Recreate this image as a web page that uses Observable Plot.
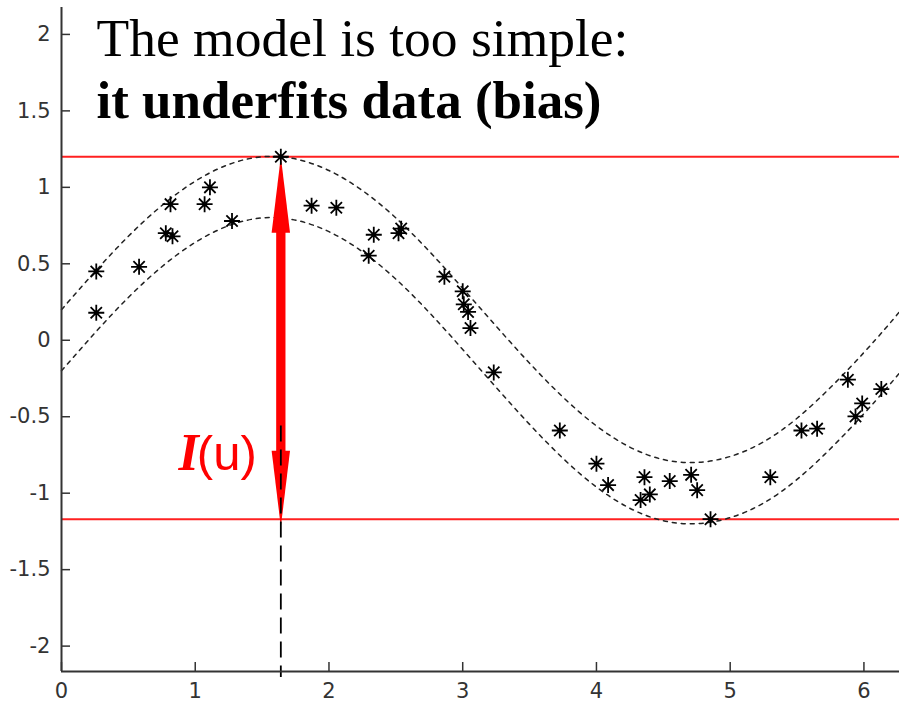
<!DOCTYPE html>
<html>
<head>
<meta charset="utf-8">
<script src="https://cdn.jsdelivr.net/npm/d3@7"></script>
<script src="https://cdn.jsdelivr.net/npm/@observablehq/plot@0.6"></script>
<style>
  html, body { margin: 0; padding: 0; background: #fff; }
  #chart svg { display: block; }
</style>
</head>
<body>
<div id="chart"></div>
<script>
// Noisy observations (u, y)
const sampleX = [0.26, 0.26, 0.58, 0.815, 0.78, 0.83, 1.07, 1.11, 1.275, 1.64,
  1.87, 2.055, 2.335, 2.52, 2.54, 2.297, 2.863, 3.0, 3.008, 3.04,
  3.058, 3.232, 3.726, 4.0, 4.087, 4.359, 4.399, 4.33, 4.548, 4.708,
  4.753, 4.853, 5.30, 5.533, 5.65, 5.88, 5.937, 5.987, 6.13];
const sampleY = [0.45, 0.18, 0.48, 0.89, 0.70, 0.68, 0.89, 1.00, 0.78, 1.20,
  0.88, 0.867, 0.69, 0.70, 0.73, 0.553, 0.416, 0.32, 0.235, 0.185,
  0.08, -0.21, -0.59, -0.807, -0.947, -0.895, -1.008, -1.045, -0.921, -0.88,
  -0.98, -1.17, -0.895, -0.59, -0.578, -0.258, -0.498, -0.413, -0.319];

// Dashed envelope of the model, sampled along u
const bandX = [0, 0.5, 1, 1.5, 2, 2.5, 3, 3.5, 4, 4.5, 5, 5.5, 6, 6.27];
const bandUpper = [0.20, 0.68, 1.04, 1.20, 1.11, 0.80, 0.34, -0.15, -0.56, -0.78, -0.76, -0.51, -0.08, 0.19];
const bandLower = [-0.20, 0.28, 0.64, 0.80, 0.71, 0.40, -0.06, -0.55, -0.96, -1.18, -1.16, -0.91, -0.48, -0.21];

// Axes
const xTicks = [0, 1, 2, 3, 4, 5, 6];
const yTicks = [-2, -1.5, -1, -0.5, 0, 0.5, 1, 1.5, 2];
const xDomain = [0, 6.266];
const yDomain = [-2.166, 2.176];

// Double arrow showing the spread I(u), and the guide down to the u axis
const arrowX = 1.64;
const arrowY = [1.2, -1.22];
const guideY = [-0.56, -2.166];
const arrowLabelY = -0.85;

// Texts
const titleLines = ["The model is too simple:", "it underfits data (bias)"];
const arrowLabel = ["I", "(u)"];

const samples = sampleX.map((x, i) => ({x, y: sampleY[i]}));
const upper = bandX.map((x, i) => ({x, y: bandUpper[i]}));
const lower = bandX.map((x, i) => ({x, y: bandLower[i]}));
const heads = [{x: arrowX, y: arrowY[0], rot: 0}, {x: arrowX, y: arrowY[1], rot: 180}];

// Asterisk marker: a plus and a cross
const asterisk = {
  draw(ctx, size) {
    const r = Math.sqrt(size / Math.PI);
    const d = r * Math.SQRT1_2;
    ctx.moveTo(-r, 0); ctx.lineTo(r, 0);
    ctx.moveTo(0, -r); ctx.lineTo(0, r);
    ctx.moveTo(-d, -d); ctx.lineTo(d, d);
    ctx.moveTo(-d, d); ctx.lineTo(d, -d);
  }
};

// Filled arrowhead with its tip at the anchor, pointing up
const headLen = 76, headHalf = 9.2;
const arrowHead = {
  draw(ctx) {
    ctx.moveTo(0, 0);
    ctx.lineTo(headHalf, headLen);
    ctx.lineTo(-headHalf, headLen);
    ctx.closePath();
  }
};

const fmt = d => String(d);
const axisColor = "#333";

const chart = Plot.plot({
  width: 899,
  height: 705,
  marginTop: 7,
  marginBottom: 34,
  marginLeft: 61,
  marginRight: 0,
  x: {domain: xDomain},
  y: {domain: yDomain},
  style: {fontFamily: "DejaVu Sans", fontSize: "21px", color: "#262626", background: "#fff", overflow: "visible"},
  marks: [
    // extremes of the observations
    Plot.ruleY(d3.extent(sampleY), {stroke: "#ff2020", strokeWidth: 2}),
    // model envelope
    Plot.line(upper, {x: "x", y: "y", curve: "natural", stroke: "#222", strokeWidth: 1.5, strokeDasharray: "4,5"}),
    Plot.line(lower, {x: "x", y: "y", curve: "natural", stroke: "#222", strokeWidth: 1.5, strokeDasharray: "4,5"}),
    // double arrow
    Plot.ruleX([arrowX], {y1: arrowY[0], y2: arrowY[1], stroke: "red", strokeWidth: 9.3, insetTop: 70, insetBottom: 70}),
    Plot.dot(heads, {x: "x", y: "y", rotate: "rot", symbol: arrowHead, r: 5, fill: "red", stroke: "none"}),
    // guide to the u axis
    Plot.ruleX([arrowX], {y1: guideY[0], y2: guideY[1], stroke: "black", strokeWidth: 1.8, strokeDasharray: "16,8", insetBottom: -6}),
    // observations
    Plot.dot(samples, {x: "x", y: "y", symbol: asterisk, r: 8, fill: "none", stroke: "black", strokeWidth: 1.8}),
    Plot.dot(samples, {x: "x", y: "y", r: 2.2, fill: "black", stroke: "none"}),
    // arrow label
    Plot.text([arrowLabel[0]], {x: arrowX, y: arrowLabelY, text: d => d, dx: -82, textAnchor: "end", lineAnchor: "bottom",
      fontFamily: "Liberation Serif", fontStyle: "italic", fontWeight: "bold", fontSize: 52, fill: "red"}),
    Plot.text([arrowLabel[1]], {x: arrowX, y: arrowLabelY, text: d => d, dx: -84, textAnchor: "start", lineAnchor: "bottom",
      fontFamily: "Liberation Sans", fontSize: 49, fill: "red"}),
    // headline
    Plot.text([titleLines[0]], {frameAnchor: "top-left", text: d => d, dx: 35, dy: 48, textAnchor: "start", lineAnchor: "bottom",
      fontFamily: "Liberation Serif", fontSize: 53.5, fill: "black"}),
    Plot.text([titleLines[1]], {frameAnchor: "top-left", text: d => d, dx: 35, dy: 110, textAnchor: "start", lineAnchor: "bottom",
      fontFamily: "Liberation Serif", fontWeight: "bold", fontSize: 53, fill: "black"}),
    // axes
    Plot.axisY({ticks: yTicks, tickFormat: fmt, tickSize: -9, tickPadding: 20, label: null, color: axisColor, strokeWidth: 1.5}),
    Plot.axisX({ticks: xTicks, tickFormat: fmt, tickSize: -9, tickPadding: 21, label: null, color: axisColor, strokeWidth: 1.5}),
    Plot.ruleX([xDomain[0]], {stroke: axisColor, strokeWidth: 2}),
    Plot.ruleY([yDomain[0]], {stroke: axisColor, strokeWidth: 2})
  ]
});

document.getElementById("chart").append(chart);
</script>
</body>
</html>
